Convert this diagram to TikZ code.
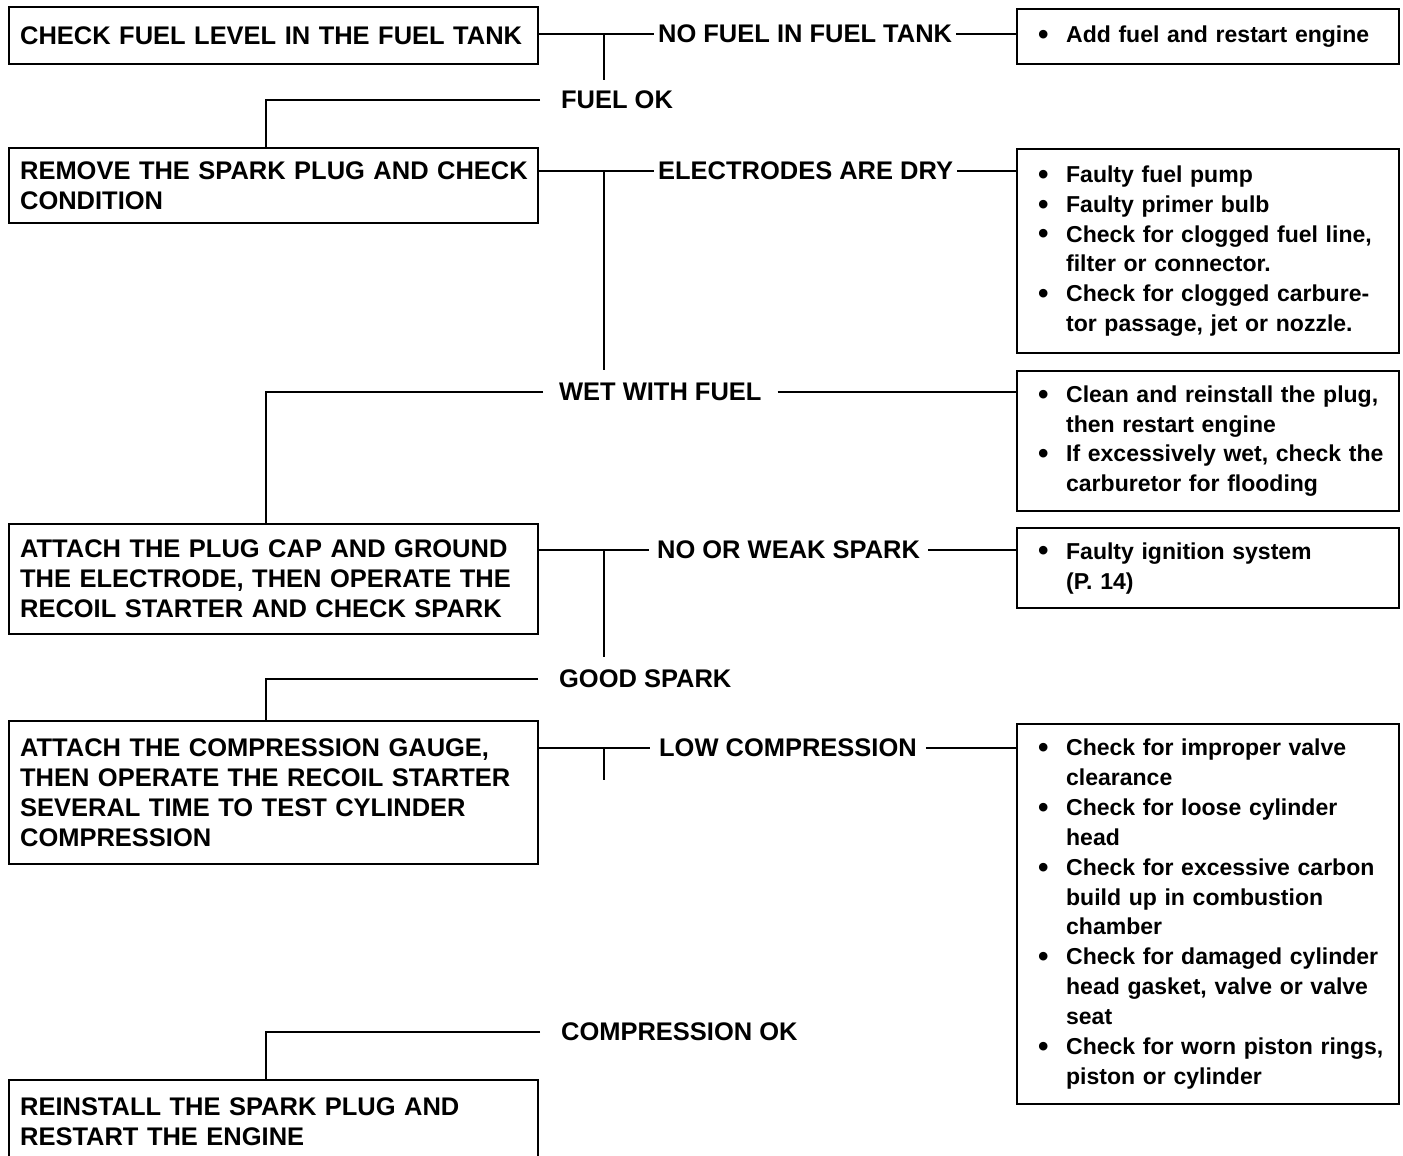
\documentclass[tikz,border=0pt]{standalone}
\usepackage{fontspec}
\setmainfont{Liberation Sans}
\usepackage{tikz}

% bullet and continuation line for the remedy boxes
\newcommand{\itm}{\makebox[0.68cm][l]{\hspace{0.12cm}\raisebox{-0.15ex}{\fontsize{17}{17}\selectfont\textbullet}}}
\newcommand{\nxt}{\hspace*{0.68cm}}

\begin{document}
\begin{tikzpicture}[x=0.02cm, y=-0.02cm, line width=1.3pt,
    stepbox/.style={draw, anchor=north west, text width=10.14cm, inner xsep=0.22cm,
      inner ysep=0.1cm, align=left, minimum height=#1,
      font=\fontsize{14.5}{17.1}\selectfont\bfseries},
    fixbox/.style={draw, anchor=north west, text width=7.04cm, inner xsep=0.3cm,
      inner ysep=0.1cm, align=left, minimum height=#1,
      font=\fontsize{13.1}{17}\selectfont\bfseries},
    result/.style={anchor=west, inner ysep=2pt, inner xsep=#1,
      font=\fontsize{14.5}{17.1}\selectfont\bfseries},
    result/.default=0.06cm]
  \useasboundingbox (0,0) rectangle (1403,1156);

  % Step 1: fuel level
  \node[stepbox=1.14cm] (b1) at (8,6) {CHECK FUEL LEVEL IN THE FUEL TANK};
  \node[result] (nofuel) at (654,34) {NO FUEL IN FUEL TANK};
  \node[fixbox=1.1cm] (r1) at (1016,8) {\itm Add fuel and restart engine};
  \draw (b1.east |- nofuel.west) -- (nofuel.west);
  \draw (nofuel.east) -- (nofuel.east -| r1.west);
  \coordinate (j1) at (604,34);
  \coordinate (e1) at (604,80);
  \draw (j1) -- (e1);

  % Step 2: spark plug condition
  \node[stepbox=1.5cm] (b2) at (8,147) {\mbox{REMOVE THE SPARK PLUG AND CHECK}\\CONDITION};
  \node[result=0.4cm] (fuelok) at (540,100) {FUEL OK};
  \draw (fuelok.west) -| ([xshift=-0.15cm]b2.north);
  \node[result] (dry) at (654,171) {ELECTRODES ARE DRY};
  \node[fixbox=4.08cm] (r2) at (1016,148) {\itm Faulty fuel pump\\
    \itm Faulty primer bulb\\
    \itm Check for clogged fuel line,\\
    \nxt filter or connector.\\
    \itm Check for clogged carbure-\\
    \nxt tor passage, jet or nozzle.};
  \draw (b2.east |- dry.west) -- (dry.west);
  \draw (dry.east) -- (dry.east -| r2.west);
  \coordinate (j2) at (604,171);
  \coordinate (e2) at (604,370);
  \draw (j2) -- (e2);
  \node[result=0.3cm] (wet) at (543,392) {WET WITH FUEL};
  \node[fixbox=2.8cm] (r3) at (1016,370) {\itm Clean and reinstall the plug,\\
    \nxt then restart engine\\
    \itm If excessively wet, check the\\
    \nxt carburetor for flooding};
  \draw (wet.east) -- (wet.east -| r3.west);

  % Step 3: spark test
  \node[stepbox=2.2cm] (b3) at (8,523) {ATTACH THE PLUG CAP AND GROUND\\THE ELECTRODE, THEN OPERATE THE\\RECOIL STARTER AND CHECK SPARK};
  \draw (wet.west) -| ([xshift=-0.15cm]b3.north);
  \node[result=0.14cm] (weak) at (649,550) {NO OR WEAK SPARK};
  \node[fixbox=1.6cm] (r4) at (1016,527) {\itm Faulty ignition system\\
    \nxt (P. 14)};
  \draw (b3.east |- weak.west) -- (weak.west);
  \draw (weak.east) -- (weak.east -| r4.west);
  \coordinate (j3) at (604,550);
  \coordinate (e3) at (604,657);
  \draw (j3) -- (e3);

  % Step 4: compression test
  \node[stepbox=2.86cm] (b4) at (8,720) {ATTACH THE COMPRESSION GAUGE,\\THEN OPERATE THE RECOIL STARTER\\SEVERAL TIME TO TEST CYLINDER\\COMPRESSION};
  \node[result=0.4cm] (good) at (538,679) {GOOD SPARK};
  \draw (good.west) -| ([xshift=-0.15cm]b4.north);
  \node[result=0.16cm] (low) at (650,748) {LOW COMPRESSION};
  \node[fixbox=7.6cm] (r5) at (1016,723) {\itm Check for improper valve\\
    \nxt clearance\\
    \itm Check for loose cylinder\\
    \nxt head\\
    \itm Check for excessive carbon\\
    \nxt build up in combustion\\
    \nxt chamber\\
    \itm Check for damaged cylinder\\
    \nxt head gasket, valve or valve\\
    \nxt seat\\
    \itm Check for worn piston rings,\\
    \nxt piston or cylinder};
  \draw (b4.east |- low.west) -- (low.west);
  \draw (low.east) -- (low.east -| r5.west);
  \coordinate (j4) at (604,748);
  \coordinate (e4) at (604,780);
  \draw (j4) -- (e4);

  % Step 5: restart
  \node[stepbox=1.68cm] (b5) at (8,1079) {REINSTALL THE SPARK PLUG AND\\RESTART THE ENGINE};
  \node[result=0.4cm] (compok) at (540,1032) {COMPRESSION OK};
  \draw (compok.west) -| ([xshift=-0.15cm]b5.north);
\end{tikzpicture}
\end{document}
